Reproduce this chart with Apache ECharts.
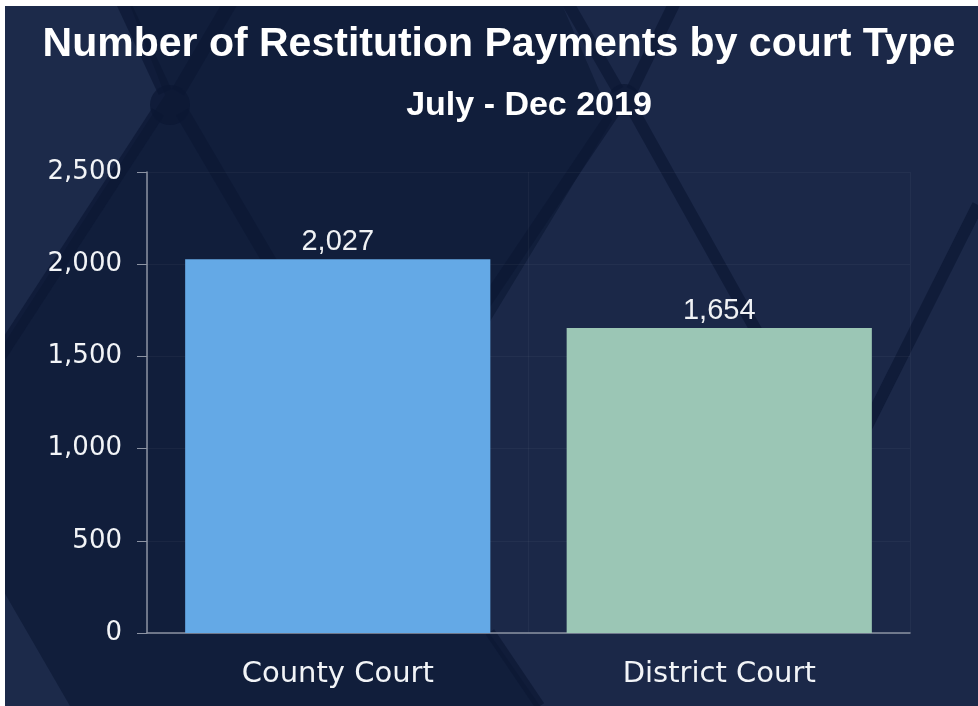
<!DOCTYPE html>
<html>
<head>
<meta charset="utf-8">
<script src="https://cdn.jsdelivr.net/npm/echarts@6/dist/echarts.min.js"></script>
<style>
  html, body { margin: 0; padding: 0; background: #ffffff; }
  #chart { width: 978px; height: 706px; }
</style>
</head>
<body>
<div id="chart"></div>
<script>
// data
const courtTypes = ['County Court', 'District Court'];
const paymentCounts = [2027, 1654];
const barColors = ['#64a9e6', '#9bc6b5'];
const yTicks = [0, 500, 1000, 1500, 2000, 2500];

const titleText = 'Number of Restitution Payments by court Type';
const subTitleText = 'July - Dec 2019';

// background decoration (the dark diamond pattern)
const lineColor = '#0b1733';
function bgLine(x1, y1, x2, y2, w) {
  return {
    type: 'line', z: -8, silent: true,
    shape: { x1: x1, y1: y1, x2: x2, y2: y2 },
    style: { stroke: lineColor, lineWidth: w || 14, opacity: 0.7 }
  };
}
function bgPoly(points, fill) {
  return { type: 'polygon', z: -9, silent: true, shape: { points: points }, style: { fill: fill } };
}

const bgGraphics = [
  // lighter panels
  bgPoly([[0, 0], [128, 0], [165, 95], [0, 350]], '#1c2a4a'),
  bgPoly([[560, 0], [978, 0], [978, 706], [540, 706], [480, 620], [400, 470], [612, 120]], '#1b2848'),
  bgPoly([[0, 585], [70, 706], [0, 706]], '#1c2a4a'),
  // dark lines
  bgLine(122, 0, 165, 92),
  bgLine(232, 0, 178, 92),
  { type: 'circle', z: -8, silent: true, shape: { cx: 170, cy: 105, r: 20 }, style: { fill: lineColor, opacity: 0.7 } },
  bgLine(158, 112, 0, 355),
  bgLine(182, 112, 345, 390),
  bgLine(566, 0, 618, 90, 12),
  bgLine(676, 0, 632, 90, 12),
  { type: 'circle', z: -8, silent: true, shape: { cx: 624, cy: 100, r: 16 }, style: { fill: lineColor, opacity: 0.7 } },
  bgLine(614, 112, 400, 430, 12),
  bgLine(634, 112, 795, 400, 12),
  bgLine(978, 205, 860, 440, 12),
  bgLine(490, 632, 540, 706, 10),
  // white margin of the picture
  { type: 'rect', z: 100, silent: true, shape: { x: 0, y: 0, width: 978, height: 6 }, style: { fill: '#ffffff' } },
  { type: 'rect', z: 100, silent: true, shape: { x: 0, y: 0, width: 5, height: 706 }, style: { fill: '#ffffff' } }
];

const chart = echarts.init(document.getElementById('chart'));

chart.setOption({
  backgroundColor: '#111e3b',
  animation: false,
  graphic: bgGraphics,
  title: [
    {
      text: titleText,
      left: 499,
      top: 24,
      padding: 0,
      textAlign: 'center',
      textStyle: { fontFamily: 'Liberation Sans', fontWeight: 'bold', fontSize: 41, color: '#ffffff' }
    },
    {
      text: subTitleText,
      left: 529,
      top: 89,
      padding: 0,
      textAlign: 'center',
      textStyle: { fontFamily: 'Liberation Sans', fontWeight: 'bold', fontSize: 34, color: '#ffffff' }
    }
  ],
  grid: { left: 147, right: 68, top: 172, bottom: 73, containLabel: false },
  xAxis: {
    type: 'category',
    data: courtTypes,
    axisLine: { lineStyle: { color: '#8c93a3', width: 1.5 } },
    axisTick: { alignWithLabel: true, length: 8, lineStyle: { color: '#8c93a3' } },
    axisLabel: { color: '#f2f4f7', fontFamily: 'DejaVu Sans', fontSize: 29, margin: 27 },
    splitLine: { show: true, lineStyle: { color: 'rgba(255,255,255,0.04)' } }
  },
  yAxis: {
    type: 'value',
    min: yTicks[0],
    max: yTicks[yTicks.length - 1],
    interval: 500,
    axisLine: { show: true, lineStyle: { color: '#8c93a3', width: 1.5 } },
    axisTick: { show: true, length: 10, lineStyle: { color: '#8c93a3' } },
    axisLabel: {
      color: '#f2f4f7', fontFamily: 'DejaVu Sans', fontSize: 26, margin: 25,
      formatter: function (v) { return v.toLocaleString('en-US'); }
    },
    splitLine: { show: true, lineStyle: { color: 'rgba(255,255,255,0.04)' } }
  },
  series: [
    {
      type: 'bar',
      barWidth: '80%',
      data: paymentCounts.map(function (v, i) {
        return { value: v, itemStyle: { color: barColors[i] } };
      }),
      label: {
        show: true,
        position: 'top',
        distance: 3,
        color: '#f0f2f5',
        fontFamily: 'Liberation Sans',
        fontSize: 29,
        formatter: function (p) { return p.value.toLocaleString('en-US'); }
      }
    }
  ]
});
</script>
</body>
</html>
